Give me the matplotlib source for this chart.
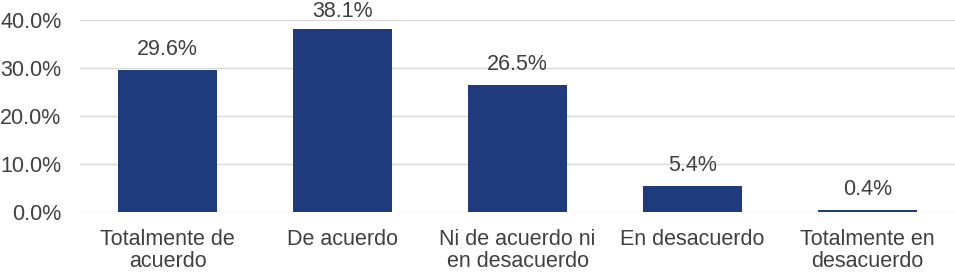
import matplotlib
matplotlib.use("Agg")
import matplotlib.pyplot as plt
from matplotlib.ticker import FuncFormatter

categories = ["Totalmente de\nacuerdo", "De acuerdo", "Ni de acuerdo ni\nen desacuerdo",
              "En desacuerdo", "Totalmente en\ndesacuerdo"]
values = [29.6, 38.1, 26.5, 5.4, 0.4]
yticks = [0, 10, 20, 30, 40]

plt.rcParams['font.family'] = ['Liberation Sans', 'DejaVu Sans']
txt = '#404040'
fs = 15.5

fig = plt.figure(figsize=(9.55, 2.72), dpi=100)
ax = fig.add_axes([80/955, 1-212/272, 1-80/955, (212-20)/272])
x = range(len(categories))
bars = ax.bar(x, values, width=0.57, color='#1F3A7D', zorder=3)
ax.set_xlim(-0.5, len(categories)-0.5)
ax.set_ylim(0, 40)
ax.set_yticks(yticks)
ax.yaxis.set_major_formatter(FuncFormatter(lambda v, p: f"{v:.1f}%"))
ax.set_xticks(list(x))
ax.set_xticklabels(categories, fontsize=fs, color=txt, linespacing=1.03)
ax.tick_params(axis='y', labelsize=fs, labelcolor=txt, length=0, pad=13.5)
ax.tick_params(axis='x', length=0, pad=12.5)
ax.grid(axis='y', color='#D9D9D9', linewidth=1, zorder=0)
for s in ax.spines.values():
    s.set_visible(False)
# label baseline ~15 px above the bar, kept inside the figure
px_per_unit = ax.get_position().height * fig.get_figheight() * fig.dpi / 40
top_limit = 40 + 3 / px_per_unit
for b, v in zip(bars, values):
    y = min(v + 15 / px_per_unit, top_limit)
    ax.text(b.get_x()+b.get_width()/2, y, f"{v:.1f}%", ha='center', va='baseline',
            fontsize=fs, color=txt, clip_on=False)
fig.savefig("out.png", dpi=100)
